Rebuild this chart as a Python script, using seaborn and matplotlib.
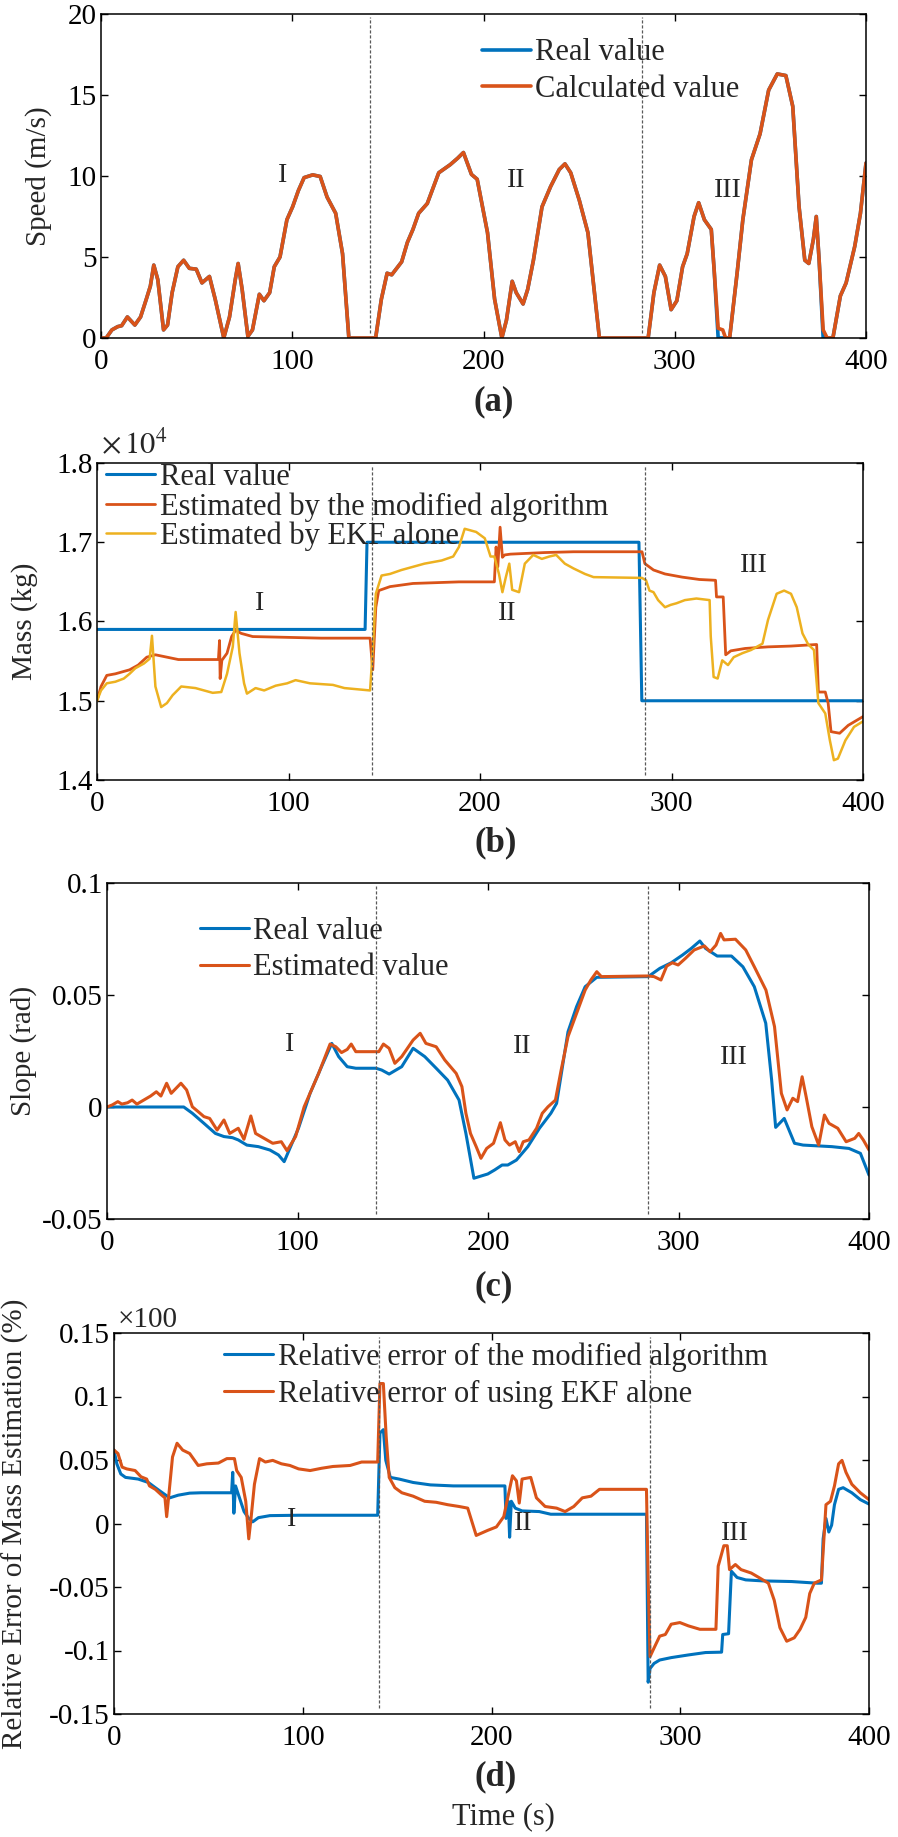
import pandas as pd
import seaborn as sns
import matplotlib.pyplot as plt

# ---------------- data ----------------
# (a) speed
speed_t = [0, 2.7, 5.7, 8.7, 10.8, 13.8, 17.7, 20.7, 23.7, 25.8, 27.6, 29.7, 32.7, 34.8, 37.2, 40.2,
           43.2, 46.2, 49.8, 52.8, 56.7, 59.7, 64.2, 67.2, 70.2, 71.7, 73.8, 76.8, 79.2, 82.8, 85.2,
           88.2, 90.6, 93.6, 97.2, 100.2, 103.2, 106.2, 110.7, 114.6, 118.2, 122.7, 126.3, 129.6,
           143.6, 146.6, 149.6, 152, 157.2, 160.2, 163.1, 166.1, 170.6, 176.6, 182.6, 186.5, 189.5,
           193.7, 196.7, 202.1, 205.8, 209.6, 212, 215, 217.1, 220.7, 223.1, 226.1, 230.6, 235.1,
           239.6, 242.6, 245.6, 250.1, 254.6, 260.6, 286.1, 289.1, 292.1, 295.1, 298.1, 301.1,
           304.1, 306.5, 310.1, 312.5, 315.5, 319.1, 320.6, 322.7, 325.1, 326.6, 328.7, 332.6,
           335.6, 340.1, 344.6, 349.1, 353.6, 358.1, 361.7, 365, 368, 370.1, 372.5, 374, 375.5,
           377.6, 379.7, 382.7, 386.6, 389.6, 394.1, 397.1, 400]
speed_calc = [0, 0, 0.5, 0.7, 0.76, 1.3, 0.8, 1.3, 2.4, 3.2, 4.5, 3.6, 0.5, 0.8, 2.8, 4.4,
              4.8, 4.3, 4.25, 3.4, 3.8, 2.4, 0, 1.3, 3.6, 4.6, 3.0, 0.1, 0.5, 2.7, 2.3,
              2.8, 4.4, 5.0, 7.3, 8.1, 9.1, 9.9, 10.07, 9.97, 8.7, 7.7, 5.2, 0,
              0, 2.4, 4.0, 3.9, 4.7, 5.9, 6.7, 7.7, 8.3, 10.2, 10.7, 11.1, 11.45,
              10.1, 9.8, 6.5, 2.4, 0, 1.1, 3.5, 2.8, 2.1, 3.0, 4.8, 8.1, 9.35,
              10.4, 10.75, 10.2, 8.5, 6.5, 0, 0, 2.8, 4.5, 3.8, 1.75, 2.3,
              4.4, 5.2, 7.5, 8.35, 7.3, 6.7, 4.2, 0.6, 0.5, 0, 0, 4.0,
              7.3, 11.0, 12.6, 15.3, 16.3, 16.2, 14.3, 8.1, 4.8, 4.6, 6.1, 7.5, 4.8,
              0.5, 0, 0, 2.6, 3.4, 5.65, 7.7, 10.8]
speed_real = [0, 0, 0.5, 0.7, 0.76, 1.3, 0.8, 1.3, 2.4, 3.2, 4.5, 3.6, 0.5, 0.8, 2.8, 4.4,
              4.8, 4.3, 4.25, 3.4, 3.8, 2.4, 0, 1.3, 3.6, 4.6, 3.0, 0.1, 0.5, 2.7, 2.3,
              2.8, 4.4, 5.0, 7.3, 8.1, 9.1, 9.9, 10.07, 9.97, 8.7, 7.7, 5.2, 0,
              0, 2.4, 4.0, 3.9, 4.7, 5.9, 6.7, 7.7, 8.3, 10.2, 10.7, 11.1, 11.45,
              10.1, 9.8, 6.5, 2.4, 0, 1.1, 3.5, 2.8, 2.1, 3.0, 4.8, 8.1, 9.35,
              10.4, 10.75, 10.2, 8.5, 6.5, 0, 0, 2.8, 4.5, 3.8, 1.75, 2.3,
              4.4, 5.2, 7.5, 8.35, 7.3, 6.7, 4.2, 0.0, 0.0, 0, 0, 4.0,
              7.3, 11.0, 12.6, 15.3, 16.3, 16.2, 14.3, 8.1, 4.8, 4.6, 6.1, 7.5, 4.8,
              0.0, 0, 0, 2.6, 3.4, 5.65, 7.7, 10.8]

# (b) mass (x 10^4 kg)
mass_real_t = [0, 140, 141, 283, 284.5, 400]
mass_real = [1.59, 1.59, 1.70, 1.70, 1.50, 1.50]
mass_mod_t = [0, 2.1, 5.1, 9.6, 14, 17, 21.5, 26, 30.5, 36.5, 42.5, 63.4, 64, 64.3, 65.2, 67.9,
              70.3, 72.4, 75.3, 81.3, 99.3, 117, 142.6, 144, 145.6, 147.1, 153, 159, 165, 177,
              189, 207.5, 208.4, 209.3, 210.5, 211.7, 212.9, 215.9, 224.8, 233.8, 248.8, 284.6,
              286.1, 290.6, 296.6, 305.6, 314.6, 323, 323.5, 327, 328.3, 331, 338.5, 350.4,
              362.4, 375.8, 376.7, 380.3, 381.8, 383.3, 387.8, 392.3, 400]
mass_mod = [1.50, 1.518, 1.532, 1.534, 1.537, 1.539, 1.545, 1.555, 1.558, 1.555, 1.552, 1.552,
            1.576, 1.528, 1.551, 1.560, 1.581, 1.589, 1.585, 1.581, 1.580, 1.579, 1.579, 1.539,
            1.618, 1.639, 1.644, 1.646, 1.648, 1.649, 1.650, 1.650, 1.694, 1.669, 1.719, 1.681,
            1.684, 1.685, 1.686, 1.687, 1.688, 1.688, 1.673, 1.665, 1.660, 1.656, 1.653, 1.652,
            1.631, 1.631, 1.558, 1.563, 1.566, 1.568, 1.569, 1.571, 1.511, 1.511, 1.497, 1.461,
            1.459, 1.469, 1.480]
mass_ekf_t = [0, 2.1, 5.1, 9.6, 14, 17, 20, 24.5, 27.5, 28.7, 30.5, 33.5, 36.5, 39.5, 44, 51.4,
              55.9, 60.4, 64.9, 67.9, 70.9, 72.4, 74.4, 76.8, 78.3, 82.8, 87.3, 93.3, 99.3,
              103.7, 111.2, 123.2, 129.2, 142.6, 144, 145.6, 148.6, 153, 159, 165, 171, 180,
              186, 189, 192, 198, 202.5, 205.5, 207.5, 209.9, 211.7, 213.5, 215.3, 216.8, 220.4,
              223.4, 227.8, 232.3, 236.2, 239.8, 244.3, 248.8, 254.8, 259.3, 284.6, 286.7,
              288.5, 290.6, 293, 296.6, 299.6, 302.6, 307, 313, 319.9, 320.5, 322, 324.1,
              326.5, 329.5, 332.5, 337, 341.5, 347.5, 350.4, 354.9, 358.8, 362.4, 365.4, 368.4,
              371.4, 374.4, 376.7, 380.3, 382.7, 384.8, 386.9, 390.8, 395.3, 400]
mass_ekf = [1.50, 1.513, 1.522, 1.524, 1.528, 1.534, 1.541, 1.547, 1.553, 1.582, 1.518, 1.492,
            1.497, 1.507, 1.518, 1.516, 1.513, 1.510, 1.511, 1.534, 1.568, 1.612, 1.560, 1.522,
            1.509, 1.516, 1.513, 1.519, 1.522, 1.526, 1.522, 1.520, 1.516, 1.513, 1.564, 1.635,
            1.658, 1.660, 1.665, 1.669, 1.673, 1.677, 1.682, 1.694, 1.717, 1.713, 1.705, 1.682,
            1.682, 1.660, 1.637, 1.656, 1.673, 1.640, 1.637, 1.673, 1.684, 1.679, 1.682, 1.684,
            1.673, 1.667, 1.660, 1.656, 1.655, 1.652, 1.639, 1.637, 1.627, 1.618, 1.621, 1.623,
            1.627, 1.629, 1.627, 1.581, 1.530, 1.528, 1.551, 1.545, 1.555, 1.560, 1.564, 1.572,
            1.602, 1.635, 1.639, 1.635, 1.618, 1.585, 1.571, 1.564, 1.497, 1.484, 1.450, 1.425,
            1.427, 1.450, 1.467, 1.474]

# (c) slope
slope_real_t = [0, 40.3, 44.8, 50.9, 56.9, 61.4, 65.9, 68.9, 73.4, 79.5, 85.5, 90, 93, 100.5,
                106.6, 112.6, 118, 121.6, 126.1, 130.6, 141.2, 144.2, 148.1, 154.7, 160.7, 166.8,
                172.8, 178.8, 184.8, 188.4, 192.6, 199.9, 203.5, 207.4, 210.4, 214.9, 220.9, 227,
                233, 236, 242, 246.5, 251, 257.1, 284.1, 290.2, 296.2, 302.2, 306.7, 311.2, 314.2,
                320.3, 327.8, 333.8, 339.8, 345.8, 348.9, 351, 355.5, 360.9, 365.4, 380.5, 389.5,
                395.5, 400]
slope_real = [0, 0, -0.0028, -0.0073, -0.0118, -0.0132, -0.0137, -0.0147, -0.017, -0.0177,
              -0.0192, -0.0214, -0.0244, -0.0095, 0.0061, 0.018, 0.0284, 0.0225, 0.018, 0.0173,
              0.0173, 0.0165, 0.0147, 0.018, 0.0262, 0.0225, 0.0173, 0.012, 0.0031, -0.0118,
              -0.0318, -0.0299, -0.0281, -0.0259, -0.0259, -0.0237, -0.0177, -0.0095, -0.0028,
              0.0016, 0.0336, 0.0448, 0.0537, 0.0579, 0.0582, 0.0619, 0.0644, 0.0679, 0.0708,
              0.0741, 0.0708, 0.0674, 0.0674, 0.0626, 0.0537, 0.0374, 0.012, -0.0091, -0.0051,
              -0.0162, -0.017, -0.0177, -0.0185, -0.0207, -0.0304]
slope_est_t = [0, 2.7, 5.7, 7.8, 10.8, 13.2, 15.7, 19.3, 22.9, 25.9, 28.3, 31.3, 33.7, 38.8, 41.8,
               44.8, 47.9, 50.9, 53.9, 57.8, 61.4, 64.4, 68.9, 71.9, 75.5, 78, 82.5, 87, 91.5,
               94.5, 99, 103.5, 111.1, 117.1, 120.1, 123.1, 126.1, 128.2, 130.6, 142.7, 145.1,
               148.1, 151.1, 154.7, 160.7, 164.4, 167.4, 172.8, 177.3, 183.3, 186.3, 188.4,
               190.8, 193.8, 196.3, 199.3, 202.9, 206.5, 208.9, 211.3, 214.3, 216.4, 218.5,
               221.5, 225.5, 228.5, 231.5, 235.4, 238.4, 242, 246.5, 251, 254, 257.1, 259.5,
               284.1, 287.2, 290.8, 293.8, 296.8, 299.8, 303.7, 308.2, 313.6, 316.6, 319.7,
               322.1, 323.9, 329.9, 335.3, 339.8, 345.9, 350.4, 354, 357, 360, 362.5, 364.9,
               367, 370, 373.6, 376.6, 379, 383.6, 388, 392.5, 394.6, 397, 400]
slope_est = [0, 0.0009, 0.0024, 0.0013, 0.0019, 0.0031, 0.0013, 0.0031, 0.0049, 0.0068, 0.0049,
             0.0106, 0.0061, 0.0106, 0.0076, 0.0001, -0.0021, -0.0043, -0.0051, -0.0103, -0.0058,
             -0.0118, -0.0095, -0.0144, -0.004, -0.0118, -0.014, -0.0162, -0.0155, -0.0195,
             -0.0132, 0.0001, 0.015, 0.0281, 0.0269, 0.0243, 0.0257, 0.0281, 0.0247, 0.0247,
             0.0281, 0.0262, 0.0195, 0.0225, 0.0299, 0.0329, 0.0284, 0.0269, 0.021, 0.015, 0.0091,
             -0.0028, -0.0118, -0.0177, -0.0229, -0.0185, -0.0162, -0.007, -0.0147, -0.017,
             -0.0155, -0.0199, -0.0155, -0.0147, -0.0095, -0.0028, 0.0001, 0.0031, 0.0165,
             0.0314, 0.0418, 0.0522, 0.0567, 0.0604, 0.0582, 0.0585, 0.0582, 0.0567, 0.0629,
             0.0644, 0.0634, 0.0664, 0.0701, 0.0719, 0.0693, 0.0723, 0.0775, 0.0746, 0.0749,
             0.0701, 0.0626, 0.0522, 0.0359, 0.0061, -0.0013, 0.0039, 0.0024, 0.0135, 0.0046,
             -0.0088, -0.017, -0.0036, -0.0073, -0.0095, -0.0155, -0.014, -0.0118, -0.0147,
             -0.0192]

# (d) relative error
err_mod_t = [0, 1.5, 3.6, 6.1, 12.8, 18.2, 21.9, 26.4, 29.5, 34, 40.1, 46.2, 62.3, 62.9, 63.5,
             64.4, 65.9, 68.9, 71.4, 73.5, 76.5, 82.6, 97.8, 139.7, 140.9, 142.7, 144, 146.4,
             151, 158.5, 167.6, 179.8, 207.1, 207.7, 208.9, 209.6, 210.5, 212.6, 216.2, 225.3,
             231.4, 243.6, 282.1, 283, 284, 286.1, 289.1, 295.2, 304.3, 313.4, 321.9, 322.5,
             325.6, 327.1, 330.1, 334.7, 343.8, 359, 372.6, 374.8, 375.7, 377.2, 378.7, 380.2,
             381.7, 383.9, 386.3, 390.9, 395.4, 400]
err_mod = [0.0578, 0.047, 0.039, 0.0363, 0.035, 0.0323, 0.0282, 0.0234, 0.0202, 0.0223, 0.0239,
           0.0242, 0.0242, 0.0403, 0.0081, 0.0296, 0.0228, 0.0094, 0.004, 0.0013, 0.0046, 0.0062,
           0.0065, 0.0065, 0.0712, 0.0739, 0.0497, 0.0363, 0.035, 0.0323, 0.0304, 0.0296, 0.0296,
           0.004, 0.0175, -0.0108, 0.0175, 0.0121, 0.0099, 0.0094, 0.0073, 0.0073, 0.0073,
           -0.125, -0.1142, -0.1102, -0.1075, -0.1056, -0.1035, -0.1016, -0.1013, -0.0874,
           -0.0868, -0.0376, -0.0425, -0.0444, -0.0452, -0.0457, -0.047, -0.047, -0.0121, 0.004,
           -0.0067, -0.0013, 0.0148, 0.0269, 0.0282, 0.0242, 0.0188, 0.0153]
err_ekf_t = [0, 2.1, 4.3, 6.7, 11.2, 14.3, 17.3, 18.8, 21.9, 24.9, 27, 27.9, 28.9, 31, 33.4, 36.4,
             40.1, 44.6, 49.2, 55.3, 59.8, 63.8, 65, 67.4, 69.8, 71.4, 72.6, 74.4, 77.1, 80.2,
             84.1, 88.7, 93.2, 97.8, 103.9, 110, 116, 125.1, 131.2, 139.7, 140.9, 142.7, 144.2,
             145.8, 148.8, 152.5, 158.5, 164.6, 170.7, 176.8, 182.8, 187.4, 191.9, 198, 202.6,
             206.5, 208.6, 211.1, 213.2, 214.7, 216.2, 220.8, 223.8, 228.4, 234.5, 239, 243.6,
             248.1, 252.7, 257.2, 282.1, 283, 284, 286.1, 289.1, 292.1, 295.2, 299.8, 304.3,
             310.4, 318.9, 320.1, 323.1, 324.9, 326.1, 329.2, 332.2, 337.6, 342.2, 346.7, 349.8,
             352.8, 356.4, 360.4, 363.5, 366.5, 368.6, 371, 374.8, 377.2, 379.6, 381.7, 383.9,
             385.7, 387.8, 390.9, 395.4, 400]
err_ekf = [0.0578, 0.0551, 0.0444, 0.043, 0.0417, 0.0368, 0.035, 0.0296, 0.0269, 0.0228, 0.0202,
           0.0054, 0.0202, 0.0524, 0.0632, 0.0578, 0.0551, 0.0457, 0.047, 0.0476, 0.0511, 0.0511,
           0.0417, 0.0363, 0.0175, -0.0121, 0.004, 0.0309, 0.0511, 0.0484, 0.0497, 0.047, 0.0457,
           0.043, 0.0417, 0.0435, 0.0449, 0.0457, 0.0484, 0.0484, 0.1102, 0.1102, 0.0685, 0.0363,
           0.0282, 0.0242, 0.0215, 0.0175, 0.0167, 0.0148, 0.0134, 0.0121, -0.0094, -0.0054,
           -0.0027, 0.0054, 0.0202, 0.0376, 0.0336, 0.0161, 0.035, 0.0363, 0.0202, 0.0134,
           0.0121, 0.0094, 0.0134, 0.0202, 0.0215, 0.0269, 0.0269, -0.0444, -0.1048, -0.0981,
           -0.0887, -0.0874, -0.0793, -0.078, -0.0806, -0.0833, -0.0833, -0.0336, -0.0175,
           -0.0175, -0.0363, -0.0323, -0.0363, -0.039, -0.043, -0.047, -0.0605, -0.082, -0.0927,
           -0.09, -0.0833, -0.0739, -0.0551, -0.047, -0.0444, 0.0148, 0.0175, 0.0296, 0.047,
           0.0497, 0.0403, 0.0309, 0.0242, 0.0188]

x_ticks = [0, 100, 200, 300, 400]
speed_ticks = [0, 5, 10, 15, 20]
mass_ticks = [1.4, 1.5, 1.6, 1.7, 1.8]
mass_ticklabels = ['1.4', '1.5', '1.6', '1.7', '1.8']
slope_ticks = [-0.05, 0, 0.05, 0.1]
slope_ticklabels = ['-0.05', '0', '0.05', '0.1']
err_ticks = [-0.15, -0.1, -0.05, 0, 0.05, 0.1, 0.15]
err_ticklabels = ['-0.15', '-0.1', '-0.05', '0', '0.05', '0.1', '0.15']

BLUE, ORANGE, YELLOW = '#0072BD', '#D95319', '#EDB120'

# ---------------- style ----------------
sns.set_style('ticks')
plt.rcParams['font.family'] = ['Liberation Serif', 'DejaVu Serif']
plt.rcParams['mathtext.fontset'] = 'stix'
plt.rcParams.update({
    'xtick.direction': 'in', 'ytick.direction': 'in',
    'xtick.top': True, 'ytick.right': True,
    'xtick.major.size': 5, 'ytick.major.size': 5,
    'xtick.major.width': 1, 'ytick.major.width': 1,
    'axes.linewidth': 1.1, 'axes.edgecolor': 'black',
    'xtick.color': 'black', 'ytick.color': 'black',
    'xtick.labelsize': 21, 'ytick.labelsize': 21,
    'xtick.major.pad': 8, 'ytick.major.pad': 3,
})

W, H = 898, 1837
fig = plt.figure(figsize=(W / 100, H / 100), dpi=100)


def make_ax(left, right, top, bottom):
    return fig.add_axes([left / W, 1 - bottom / H, (right - left) / W, (bottom - top) / H])


def line(ax, t, v, color, label, lw):
    sns.lineplot(x=t, y=v, ax=ax, color=color, label=label, lw=lw,
                 estimator=None, sort=False)


def finish(ax, ylim, yticks, yticklabels, ylabel, ylab_x, tag, tag_x, tag_y, vlines, roman):
    ax.set_xlim(0, 400)
    ax.set_ylim(*ylim)
    ax.set_xticks(x_ticks)
    ax.set_xticklabels([str(v) for v in x_ticks])
    ax.set_yticks(yticks)
    ax.set_yticklabels(yticklabels)
    ax.set_ylabel(ylabel, fontsize=21, va='center')
    ax.yaxis.set_label_coords(ylab_x, 0.5)
    ax.set_xlabel(tag, fontsize=25, fontweight='bold', va='center')
    ax.xaxis.set_label_coords(tag_x, tag_y)
    for xv in vlines:
        ax.axvline(xv, ymin=0.015, ymax=0.99, color='0.35', lw=0.9, ls=(0, (2.5, 1.5)))
    for txt, xv, yv in roman:
        ax.text(xv, yv, txt, fontsize=20, ha='center', va='center')


def legend(ax, x, y, spacing):
    ax.legend(loc='upper left', bbox_to_anchor=(x, y), frameon=False, fontsize=22,
              handlelength=1.6, handletextpad=0.15, labelspacing=spacing,
              borderpad=0, borderaxespad=0)


# (a)
ax = make_ax(101, 866, 14, 338)
line(ax, speed_t, speed_real, BLUE, 'Real value', 2.6)
line(ax, speed_t, speed_calc, ORANGE, 'Calculated value', 2.6)
finish(ax, (0, 20), speed_ticks, [str(v) for v in speed_ticks], 'Speed (m/s)', -0.082,
       '(a)', 0.513, -0.198, [140.5, 283],
       [('I', 95, 10.0), ('II', 217, 9.7), ('III', 327.5, 9.1)])
legend(ax, 0.498, 0.925, 0.25)

# (b)
ax = make_ax(97, 863, 463, 780)
line(ax, mass_real_t, mass_real, BLUE, 'Real value', 2.2)
line(ax, mass_mod_t, mass_mod, ORANGE, 'Estimated by the modified algorithm', 2.0)
line(ax, mass_ekf_t, mass_ekf, YELLOW, 'Estimated by EKF alone', 1.8)
finish(ax, (1.4, 1.8), mass_ticks, mass_ticklabels, 'Mass (kg)', -0.095,
       '(b)', 0.52, -0.199, [143.5, 286],
       [('I', 85, 1.623), ('II', 214, 1.61), ('III', 343, 1.671)])
legend(ax, 0.012, 1.0, 0.0)
ax.text(0.005, 1.005, r'$\times\,10^4$', transform=ax.transAxes, fontsize=22,
        ha='left', va='bottom')

# (c)
ax = make_ax(107, 869, 883, 1219)
line(ax, slope_real_t, slope_real, BLUE, 'Real value', 2.2)
line(ax, slope_est_t, slope_est, ORANGE, 'Estimated value', 2.2)
finish(ax, (-0.05, 0.1), slope_ticks, slope_ticklabels, 'Slope (rad)', -0.11,
       '(c)', 0.507, -0.202, [141, 284],
       [('I', 96, 0.028), ('II', 218, 0.027), ('III', 329, 0.022)])
legend(ax, 0.122, 0.9, 0.25)

# (d)
ax = make_ax(114, 869, 1333, 1714)
line(ax, err_mod_t, err_mod, BLUE, 'Relative error of the modified algorithm', 2.2)
line(ax, err_ekf_t, err_ekf, ORANGE, 'Relative error of using EKF alone', 2.2)
finish(ax, (-0.15, 0.15), err_ticks, err_ticklabels, 'Relative Error of Mass Estimation (%)',
       -0.13, '(d)', 0.506, -0.165, [140.5, 284],
       [('I', 94, 0.003), ('II', 217, 0.0), ('III', 329, -0.008)])
legend(ax, 0.146, 0.975, 0.25)
ax.text(0.005, 1.0, '×100', transform=ax.transAxes, fontsize=21, ha='left', va='bottom')

fig.text(503 / W, 1 - 1817 / H, 'Time (s)', fontsize=22, ha='center', va='center')

fig.savefig('out.png', dpi=100)
